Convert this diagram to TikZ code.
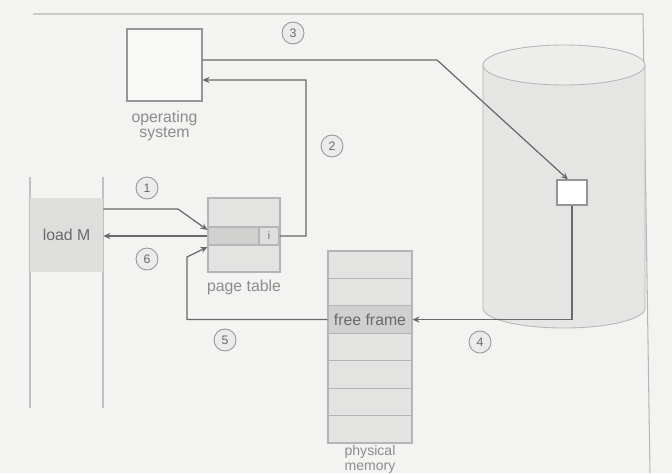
\documentclass[tikz,border=0pt]{standalone}
\usepackage{fontspec}
\setmainfont{Liberation Sans}
\usetikzlibrary{arrows.meta,positioning}
\definecolor{paper}{RGB}{243,243,241}
\definecolor{shade}{RGB}{222,222,221}
\definecolor{shadedark}{RGB}{208,208,207}
\definecolor{edge}{RGB}{150,150,150}
\definecolor{ink}{RGB}{105,105,105}
\definecolor{labelgray}{RGB}{140,140,140}
\tikzset{
  box/.style={draw=edge, line width=0.6pt, inner sep=0pt},
  step num/.style={circle, draw=edge, fill=shade!60, line width=0.5pt,
    minimum size=0.44cm, inner sep=0pt, font=\fontsize{7}{7}\selectfont, text=ink},
  lbl/.style={font=\fontsize{9}{8.6}\selectfont, text=labelgray, align=center, inner sep=0pt},
  link/.style={draw=ink, line width=0.7pt},
  tip/.style={-{Stealth[length=4pt,width=3.5pt]}}
}
\begin{document}
\begin{tikzpicture}[x=0.02cm, y=-0.02cm]
          \def\mw{1.68cm}
          \def\mh{0.5486cm}
          \fill[paper] (0,0) rectangle (672,473);
          \useasboundingbox (0,0) rectangle (672,473);
          % page edge
          \draw[edge!70, line width=0.6pt] (33,14) -- (643,14) -- (650,473);
          % disk
          \draw[edge!70, fill=shade!80, line width=0.5pt] (483,65) -- (483,308)
          arc [x radius=81, y radius=20, start angle=180, end angle=0]
          -- (645,65);
          \draw[edge!70, fill=shade!55, line width=0.5pt] (564,65) ellipse
          [x radius=81, y radius=20];
          \node[box, fill=white, minimum width=0.6cm, minimum height=0.5cm] (blk)
          at (572,192.5) {};
          % process
          \draw[edge!60, line width=0.6pt] (30,177) -- (30,408);
          \draw[edge!60, line width=0.6pt] (103,177) -- (103,408);
          \node[fill=shade, minimum width=1.46cm, minimum height=1.48cm,
          inner sep=0pt, lbl, text=ink] (loadm) at (66.5,235) {load M};
          % operating system
          \node[box, fill=paper!60!white, minimum width=1.5cm, minimum height=1.44cm]
          (os) at (164.5,65) {};
          \node[lbl, below=0.18cm of os] (oslbl) {operating\\system};
          % page table
          \node[box, draw=edge!70, fill=shade!85, minimum width=1.44cm,
          minimum height=1.48cm] (pt) at (244,235) {};
          \node[box, draw=edge!70, fill=shadedark, minimum width=1.44cm,
          minimum height=0.36cm] (pte) at (244,236) {};
          \node[box, draw=edge!70, fill=shade, minimum width=0.4cm,
          minimum height=0.36cm, font=\fontsize{6}{6}\selectfont, text=ink]
          (pti) at (269,236) {i};
          \node[lbl, below=0.14cm of pt] (ptlbl) {page table};
          % physical memory
          \foreach \i in {0,...,6}
            \node[box, draw=edge!70, fill=shade!85, minimum width=\mw,
            minimum height=\mh] (f\i) at (370,{251+27.43*(\i+0.5)}) {};
          \node[box, draw=edge!70, fill=shadedark, minimum width=\mw,
          minimum height=\mh, lbl, text=ink] (ff) at (f2) {free frame};
          \node[lbl, font=\fontsize{8}{8.6}\selectfont, below=0.02cm of f6]
          (pmlbl) {physical\\memory};
          % connectors
          \coordinate (c1) at (178,209);
          \coordinate (c2) at (306,80);
          \coordinate (c3) at (437,60);
          \coordinate (c5) at (187,257);
          \draw[link, tip] ([yshift=0.52cm]loadm.east) -- (c1)
          -- ([yshift=0.12cm]pte.west);
          \draw[link, tip] (pti.east) -| (c2) -- ([yshift=-0.3cm]os.east);
          \draw[link, tip] ([yshift=0.1cm]os.east) -- (c3)
          -- ([xshift=-0.08cm]blk.north);
          \draw[link, tip] (blk.south) |- (ff.east);
          \draw[link, tip] (ff.west) -| (c5) -- ([yshift=-0.22cm]pte.west);
          \draw[link, tip] (pte.west) -- (pte.west -| loadm.east);
          % step numbers
          \node[step num] (n1) at (147,188) {1};
          \node[step num] (n2) at (332,146) {2};
          \node[step num] (n3) at (293,33) {3};
          \node[step num] (n4) at (480,342) {4};
          \node[step num] (n5) at (225,340) {5};
          \node[step num] (n6) at (147,259) {6};
        \end{tikzpicture}
\end{document}
